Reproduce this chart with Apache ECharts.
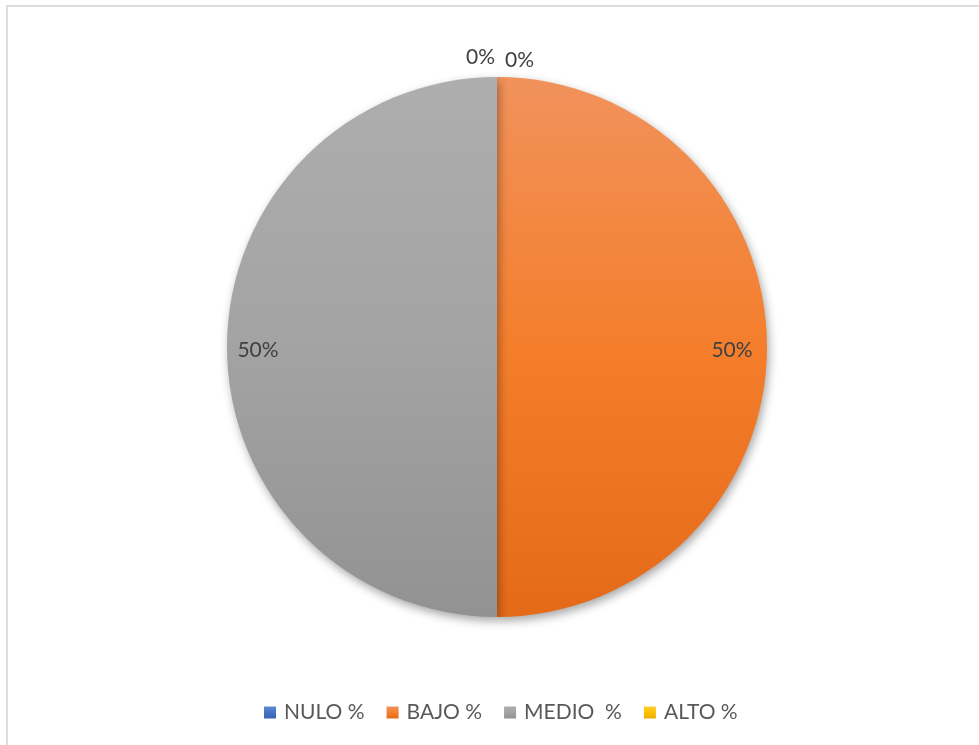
<!DOCTYPE html>
<html>
<head>
<meta charset="utf-8">
<script src="https://cdn.jsdelivr.net/npm/echarts@6/dist/echarts.min.js"></script>
<style>
  html, body { margin: 0; padding: 0; background: #ffffff; }
  #chart { width: 979px; height: 745px; }
</style>
</head>
<body>
<div id="chart"></div>
<script>
// Nivel de resultado y su porcentaje
const categories = ['NULO %', 'BAJO %', 'MEDIO  %', 'ALTO %'];
const values = [0, 50, 50, 0];

// Colores de cada nivel: [arriba, centro, abajo]
const palette = [
  ['#5F8AD3', '#4472C4', '#3864B4'],
  ['#F1925C', '#F47E2C', '#E46A18'],
  ['#AEAEAE', '#A3A3A3', '#929292'],
  ['#FFCC33', '#FFC000', '#E8AE00']
];

const FONT = 'Lato, "Open Sans", sans-serif';

function grad(c) {
  return new echarts.graphic.LinearGradient(0, 0, 0, 1, [
    { offset: 0, color: c[0] },
    { offset: 0.5, color: c[1] },
    { offset: 1, color: c[2] }
  ]);
}

const data = categories.map(function (name, i) {
  return {
    name: name,
    value: values[i],
    itemStyle: { color: grad(palette[i]) }
  };
});

const chart = echarts.init(document.getElementById('chart'), null, { renderer: 'canvas' });

chart.setOption({
  animation: false,
  backgroundColor: '#ffffff',
  graphic: [{
    type: 'rect',
    silent: true,
    shape: { x: 7, y: 5.8, width: 1200, height: 1200 },
    style: { fill: 'none', stroke: '#D9D9D9', lineWidth: 1.7 }
  }],
  legend: {
    data: categories,
    left: 259,
    top: 697,
    icon: 'rect',
    itemWidth: 12,
    itemHeight: 12,
    itemGap: 22,
    selectedMode: false,
    textStyle: {
      fontFamily: FONT,
      fontSize: 21,
      color: '#595959',
      padding: [0, 0, 0, 3]
    }
  },
  series: [{
    type: 'pie',
    center: [497, 347],
    radius: [0, 270],
    startAngle: 90,
    clockwise: true,
    avoidLabelOverlap: false,
    minShowLabelAngle: 0,
    stillShowZeroSum: true,
    label: {
      show: true,
      position: 'inside',
      formatter: function (p) { return p.value + '%'; },
      fontFamily: FONT,
      fontSize: 21,
      color: '#404040'
    },
    labelLine: { show: false },
    // place labels relative to each sector's bounding box
    labelLayout: function (p) {
      const r = p.rect;
      const i = p.dataIndex;
      if (values[i] > 0) {
        // right half (BAJO) labels near its right rim, left half near its left rim
        return {
          x: i === 1 ? r.x + r.width - 35 : r.x + 31,
          y: r.y + r.height / 2 + 3,
          align: 'center',
          verticalAlign: 'middle',
          hideOverlap: false
        };
      }
      // empty slices sit just above the top of the pie
      return i === 0
        ? { x: r.x - 2, y: r.y - 20, align: 'right', verticalAlign: 'middle', hideOverlap: false }
        : { x: r.x + 8, y: r.y - 17, align: 'left', verticalAlign: 'middle', hideOverlap: false };
    },
    itemStyle: {
      borderWidth: 0,
      shadowBlur: 10,
      shadowOffsetX: 2,
      shadowOffsetY: 4,
      shadowColor: 'rgba(0,0,0,0.35)'
    },
    emphasis: { disabled: true },
    data: data
  }]
});
</script>
</body>
</html>
